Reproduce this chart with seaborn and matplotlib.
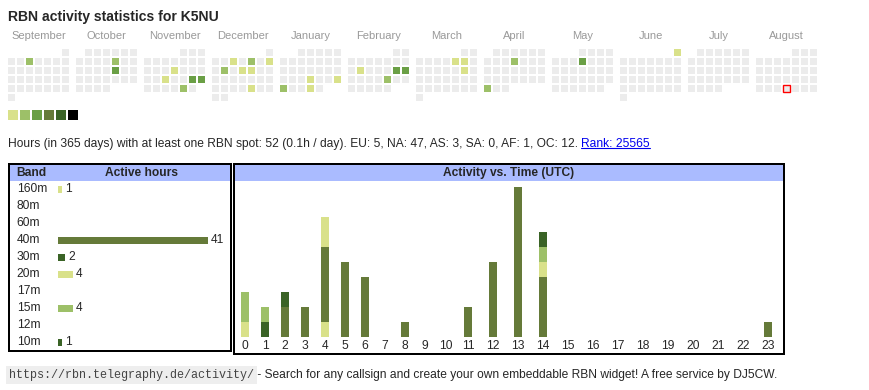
import numpy as np
import pandas as pd
import matplotlib
matplotlib.use('Agg')
import matplotlib.pyplot as plt
import seaborn as sns
from matplotlib.colors import ListedColormap
from matplotlib.patches import Rectangle

W, H = 870, 390

# ---------------- data ----------------
callsign = 'K5NU'
summary = ('Hours (in 365 days) with at least one RBN spot: 52 (0.1h / day). '
           'EU: 5, NA: 47, AS: 3, SA: 0, AF: 1, OC: 12. ')
rank_text = 'Rank: 25565'
footer_url = 'https://rbn.telegraphy.de/activity/'
footer_text = ' - Search for any callsign and create your own embeddable RBN widget! A free service by DJ5CW.'

months = pd.period_range('2024-09', '2025-08', freq='M')
active_days = ['2024-09-04', '2024-10-11', '2024-10-18', '2024-11-14', '2024-11-20',
               '2024-11-23', '2024-11-24', '2024-11-29', '2024-12-04', '2024-12-06',
               '2024-12-08', '2024-12-10', '2024-12-12', '2024-12-13', '2024-12-27',
               '2025-01-23', '2025-01-26', '2025-01-27', '2025-01-30', '2025-02-11',
               '2025-02-15', '2025-02-16', '2025-02-21', '2025-03-07', '2025-03-08',
               '2025-03-15', '2025-04-10', '2025-04-28', '2025-05-08', '2025-06-01']
active_levels = [2, 2, 3, 1, 1,
                 3, 3, 2, 1, 2,
                 1, 2, 1, 1, 1,
                 1, 1, 2, 1, 1,
                 3, 3, 2, 1, 1,
                 1, 2, 2, 3, 1]
today = '2025-08-28'
legend_levels = [1, 2, 3, 4, 5, 6]

bands = ['160m', '80m', '60m', '40m', '30m', '20m', '17m', '15m', '12m', '10m']
band_hours = [1, 0, 0, 41, 2, 4, 0, 4, 0, 1]

# activity per band and UTC hour
act_band = ['160m'] + ['40m'] * 11 + ['30m'] * 2 + ['20m'] * 3 + ['15m'] * 3 + ['10m']
act_hour = [4, 2, 3, 4, 5, 6, 8, 11, 12, 13, 14, 23, 1, 2, 0, 4, 14, 0, 1, 14, 14]
act_count = [1, 2, 2, 5, 5, 4, 1, 2, 5, 10, 4, 1, 1, 1, 1, 2, 1, 2, 1, 1, 1]
hours = list(range(24))
hour_labels = [str(h) for h in hours]

# ---------------- styles ----------------
level_colors = ['#ececec', '#d9e18a', '#9dc068', '#6a9f45', '#657a39', '#3a6326', '#000000']
band_colors = {'160m': '#d9e18a', '80m': '#d9e18a', '60m': '#9dc068', '40m': '#657a39',
               '30m': '#3a6326', '20m': '#d9e18a', '17m': '#9dc068', '15m': '#9dc068',
               '12m': '#3a6326', '10m': '#3a6326'}
header_blue = '#aabbff'
fs = 8.64  # 12px
# pixel centres of the hour columns (html table layout)
col_centers = [245, 265, 285, 305, 325, 345, 365, 385, 405, 425, 446, 468,
               493, 518, 543, 568, 593, 618, 643, 668, 693, 718, 743, 768]

sns.set_style('white')
plt.rcParams['font.family'] = ['Liberation Sans', 'DejaVu Sans']

fig = plt.figure(figsize=(W / 100, H / 100), dpi=100)


def px_axes(x0, y0, x1, y1):
    a = fig.add_axes([x0 / W, 1 - y1 / H, (x1 - x0) / W, (y1 - y0) / H])
    a.set_facecolor('none')
    return a


# background axes in pixel units for text and boxes
bg = fig.add_axes([0, 0, 1, 1])
bg.set_xlim(0, W)
bg.set_ylim(H, 0)
bg.axis('off')

bg.text(8, 20.7, f'RBN activity statistics for {callsign}', fontsize=10.1,
        fontweight='bold', va='baseline')

# ---------------- calendar ----------------
cal_cmap = ListedColormap(level_colors)
act = pd.Series(active_levels, index=pd.to_datetime(active_days))
today_ts = pd.Timestamp(today)
for i, m in enumerate(months):
    first = m.start_time
    offset = first.weekday()
    grid = np.full((6, 7), np.nan)
    for d in range(m.days_in_month):
        day = first + pd.Timedelta(days=d)
        k = offset + d
        grid[k // 7, k % 7] = act.get(day, 0)
    ax = px_axes(7 + 68 * i, 48.3, 70 + 68 * i, 102.3)
    sns.heatmap(grid, mask=np.isnan(grid), cmap=cal_cmap, vmin=-0.5, vmax=6.5,
                cbar=False, linewidths=1.44, linecolor='white',
                xticklabels=False, yticklabels=False, ax=ax)
    ax.set_title(m.strftime('%B'), fontsize=8, color='#999999', pad=6.7)
    if today_ts.to_period('M') == m:
        k = offset + today_ts.day - 1
        ax.add_patch(Rectangle((k % 7 + 0.1, k // 7 + 0.1), 0.8, 0.8, fill=False,
                               edgecolor='red', lw=1.0))

# colour legend
lax = px_axes(7, 109.3, 79, 121.3)
sns.heatmap(np.array([legend_levels], dtype=float), cmap=cal_cmap, vmin=-0.5, vmax=6.5,
            cbar=False, linewidths=1.44, linecolor='white',
            xticklabels=False, yticklabels=False, ax=lax)

# ---------------- summary line ----------------
t1 = bg.text(8, 146.7, summary, fontsize=fs, va='baseline')
fig.canvas.draw()
r = fig.canvas.get_renderer()
bb = t1.get_window_extent(r)
t2 = bg.text(bb.x1, 146.7, rank_text, fontsize=fs, va='baseline', color='#0000ee')
bb2 = t2.get_window_extent(r)
bg.plot([bb2.x0, bb2.x1], [148.3, 148.3], color='#0000ee', lw=0.8)

# ---------------- boxes ----------------
bg.add_patch(Rectangle((10.3, 165.3), 230 - 10.3, 180.7 - 165.3, fc=header_blue, ec='none'))
bg.add_patch(Rectangle((235.5, 165.3), 782.7 - 235.5, 180.7 - 165.3, fc=header_blue, ec='none'))
bg.add_patch(Rectangle((9.3, 164.3), 231 - 9.3, 351.3 - 164.3, fill=False, ec='black', lw=1.44))
bg.add_patch(Rectangle((234.5, 164.3), 783.7 - 234.5, 354 - 164.3, fill=False, ec='black', lw=1.44))
bg.text(16.7, 173, 'Band', fontsize=fs, fontweight='bold', va='center')
bg.text(141.7, 173, 'Active hours', fontsize=fs, fontweight='bold', va='center', ha='center')
bg.text(508.5, 173, 'Activity vs. Time (UTC)', fontsize=fs, fontweight='bold',
        va='center', ha='center')

# ---------------- band bars ----------------
bax = px_axes(10.3, 180.7, 229.7, 350.7)
sns.barplot(x=band_hours, y=bands, hue=bands, palette=band_colors, legend=False,
            width=0.41, saturation=1, linewidth=0, orient='y', ax=bax)
for cont, v in zip(bax.containers, band_hours):
    bax.bar_label(cont, labels=[str(v) if v else ''], padding=2.2, fontsize=fs)
bax.set_xlim(-(58 - 10.3) / 3.66, (229.7 - 58) / 3.66)
bax.set_ylim(len(bands) - 0.5, -0.5)
bax.set_yticks(range(len(bands)), bands)
for t in bax.get_yticklabels():
    t.set_ha('left')
    t.set_va('center')
bax.tick_params(axis='y', length=0, pad=-4.6, labelsize=fs)
bax.set_xticks([])
bax.set_xlabel('')
bax.set_ylabel('')
sns.despine(ax=bax, left=True, bottom=True)

# ---------------- activity vs time ----------------
act_df = pd.DataFrame({'band': act_band, 'hour': act_hour, 'count': act_count})
table = (act_df.pivot_table(index='hour', columns='band', values='count', aggfunc='sum')
         .reindex(index=hours, columns=bands).fillna(0))
stacked = table.cumsum(axis=1)

knot_h = [-1.0] + [h + s for h in hours for s in (-0.2, 0.2)] + [24.0]
knot_px = [col_centers[0] - 20.0] + [c + s for c in col_centers for s in (-4, 4)] + [col_centers[-1] + 25.0]


def fwd(v):
    return np.interp(v, knot_h, knot_px)


def inv(v):
    return np.interp(v, knot_px, knot_h)


tax = px_axes(235.5, 180.7, 782.5, 336.7)
tax.set_xscale('function', functions=(fwd, inv))
for band in reversed(bands):
    if table[band].sum() == 0:
        continue
    sns.barplot(x=hours, y=stacked[band].values, native_scale=True, color=band_colors[band],
                saturation=1, width=0.4, linewidth=0, errorbar=None, ax=tax)
tax.set_xlim(inv(235.5), inv(782.5))
tax.set_ylim(0, 10.4)
tax.set_xticks(hours, hour_labels)
tax.tick_params(axis='x', length=0, pad=2.5, labelsize=fs)
tax.set_yticks([])
tax.set_xlabel('')
tax.set_ylabel('')
sns.despine(ax=tax, left=True, bottom=True)

# ---------------- footer ----------------
t3 = bg.text(9.3, 377.7, footer_url, family='Liberation Mono', fontsize=8.5, color='#444444',
             va='baseline', bbox=dict(boxstyle='square,pad=0.25', fc='#eeeeee', ec='none'))
bb3 = t3.get_window_extent(r)
bg.text(bb3.x1, 377.7, footer_text, fontsize=fs, va='baseline')

fig.savefig('out.png', dpi=100)
